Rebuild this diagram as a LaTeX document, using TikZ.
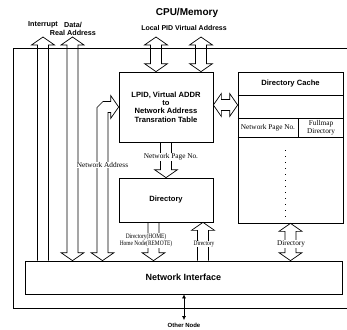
\documentclass[tikz,border=0pt]{standalone}
\usepackage{fontspec}
\setmainfont{Liberation Serif}
\setsansfont{Liberation Sans}
\newfontfamily\narrowserif[FakeStretch=0.8]{Liberation Serif}
\usepackage{tikz}
\usetikzlibrary{arrows.meta,positioning,calc}

% sizes of the hollow arrows
\newcommand{\shaftw}{5.5pt}
\newcommand{\headw}{11.5pt}
\newcommand{\headl}{8pt}

% hollow arrows: #1 upper (or left) end, #2 lower (or right) end
\newcommand{\bothwayv}[2]{%
  \draw[hollow] let \p1=(#1), \p2=(#2) in
    (\x1,\y1) -- (\x1+\headw,\y1-\headl) -- (\x1+\shaftw,\y1-\headl) -- (\x1+\shaftw,\y2+\headl)
    -- (\x1+\headw,\y2+\headl) -- (\x1,\y2) -- (\x1-\headw,\y2+\headl) -- (\x1-\shaftw,\y2+\headl)
    -- (\x1-\shaftw,\y1-\headl) -- (\x1-\headw,\y1-\headl) -- cycle;}
\newcommand{\upwayv}[2]{%
  \draw[hollow] let \p1=(#1), \p2=(#2) in
    (\x1-\shaftw,\y2) -- (\x1-\shaftw,\y1-\headl) -- (\x1-\headw,\y1-\headl) -- (\x1,\y1)
    -- (\x1+\headw,\y1-\headl) -- (\x1+\shaftw,\y1-\headl) -- (\x1+\shaftw,\y2);}
\newcommand{\downwayv}[2]{%
  \draw[hollow] let \p1=(#1), \p2=(#2) in
    (\x1-\shaftw,\y1) -- (\x1-\shaftw,\y2+\headl) -- (\x1-\headw,\y2+\headl) -- (\x1,\y2)
    -- (\x1+\headw,\y2+\headl) -- (\x1+\shaftw,\y2+\headl) -- (\x1+\shaftw,\y1);}
\newcommand{\bothwayh}[2]{%
  \draw[hollow] let \p1=(#1), \p2=(#2) in
    (\x1,\y1) -- (\x1+\headl,\y1+\headw) -- (\x1+\headl,\y1+\shaftw) -- (\x2-\headl,\y1+\shaftw)
    -- (\x2-\headl,\y1+\headw) -- (\x2,\y1) -- (\x2-\headl,\y1-\headw) -- (\x2-\headl,\y1-\shaftw)
    -- (\x1+\headl,\y1-\shaftw) -- (\x1+\headl,\y1-\headw) -- cycle;}

\begin{document}
\begin{tikzpicture}[x=1pt, y=-1pt,
    box/.style={draw, line width=0.7pt, font=\sffamily\bfseries\fontsize{7.6}{8.2}\selectfont, align=center, inner sep=0pt},
    hollow/.style={draw, line width=0.7pt, line join=miter},
    lbl/.style={font=\fontsize{7.3}{8}\selectfont, fill=white, inner sep=0.6pt},
    smalllbl/.style={font=\narrowserif\fontsize{6.8}{7.6}\selectfont, fill=white, inner sep=0.4pt, align=center},
    toplbl/.style={font=\sffamily\bfseries\fontsize{7.2}{8}\selectfont, inner sep=0pt, align=center}
]
    \useasboundingbox (0,0) rectangle (347,329);

    % node frame
    \draw[line width=0.7pt] (347,48) -- (13,48) -- (13,308) -- (347,308);

    % main blocks
    \node[box, minimum width=94pt, minimum height=70pt] (lpid) at (166,107) {LPID, Virtual ADDR\\to\\Network Address\\Transration Table};
    \node[box, minimum width=94pt, minimum height=44pt] (dir) at (166,200) {Directory};
    \node[box, minimum width=105pt, minimum height=151pt] (dcache) at (290.5,147.5) {};
    \node[box, minimum width=317pt, minimum height=33pt, font=\sffamily\bfseries\fontsize{9}{10}\selectfont] (ni) at (183.5,277.5) {Network Interface};

    % directory cache table
    \coordinate (rowa) at (0,95);
    \coordinate (rowb) at (0,118);
    \coordinate (rowc) at (0,137);
    \coordinate (colsep) at (298,0);
    \node[box, draw=none] (dctitle) at (290.5,84) {Directory Cache};
    \draw[line width=0.7pt] (dcache.west |- rowa) -- (dcache.east |- rowa);
    \draw[line width=0.7pt] (dcache.west |- rowb) -- (dcache.east |- rowb);
    \draw[line width=0.7pt] (dcache.west |- rowc) -- (dcache.east |- rowc);
    \draw[line width=0.7pt] (colsep |- rowb) -- (colsep |- rowc);
    \node[lbl, fill=none] (pagecol) at (268,127.5) {Network Page No.};
    \node[lbl, fill=none, align=center] (mapcol) at (321,127.5) {Fullmap\\Directory};
    \coordinate (dotsa) at (285,150);
    \coordinate (dotsb) at (285,218);
    \draw[line width=1pt, dash pattern=on 1pt off 5pt] (dotsa) -- (dotsb);

    % arrow ends
    \coordinate (intT) at (43,37);
    \coordinate (dataT) at (72.5,37);
    \coordinate (cpuA) at (156,37);
    \coordinate (cpuB) at (201,37);
    \coordinate (cacheY) at (0,105);
    \coordinate (naY) at (0,107);
    \coordinate (naX) at (102.5,0);

    % hollow arrows
    \upwayv{intT}{ni.north}
    \bothwayv{dataT}{ni.north}
    \bothwayv{cpuA}{lpid.north}
    \bothwayv{cpuB}{lpid.north}
    \bothwayh{lpid.east |- cacheY}{dcache.west |- cacheY}
    \downwayv{lpid.south}{dir.north}
    \downwayv{[xshift=-12.5pt]dir.south}{ni.north}
    \upwayv{[xshift=37pt]dir.south}{ni.north}
    \bothwayv{dcache.south}{ni.north}
    \draw[hollow] let \p1=(lpid.west |- naY), \p2=(ni.north -| naX) in
      (\x1,\y1) -- (\x1-\headl,\y1-\headw) -- (\x1-\headl,\y1-\shaftw) -- (\x2+\shaftw,\y1-\shaftw)
      -- (\x2+\shaftw,\y2+\headl) -- (\x2+\headw,\y2+\headl) -- (\x2,\y2) -- (\x2-\headw,\y2+\headl)
      -- (\x2-\shaftw,\y2+\headl) -- (\x2-\shaftw,\y1+\shaftw-6pt) -- (\x2-\shaftw+6pt,\y1+\shaftw)
      -- (\x1-\headl,\y1+\shaftw) -- (\x1-\headl,\y1+\headw) -- cycle;

    % arrow labels
    \node[lbl] (naddr) at (102.5,165) {Network Address};
    \node[lbl] (npage) at (171,157) {Network Page No.};
    \node[smalllbl] (homelbl) at (146,240.5) {Directory(HOME)\\Home Node(REMOTE)};
    \node[smalllbl] (dirlbl) at (204,244) {Directory};
    \node[lbl] (dclbl) at (291,244) {Directory};

    % outside labels
    \node[toplbl, font=\sffamily\bfseries\fontsize{10}{11}\selectfont] (cpumem) at (187,13) {CPU/Memory};
    \node[toplbl, font=\sffamily\bfseries\fontsize{7}{8}\selectfont] (lpva) at (184,28) {Local PID Virtual Address};
    \node[toplbl] (intlbl) at (43,25) {Interrupt};
    \node[toplbl] (datalbl) at (73,29) {Data/\\Real Address};
    \node[toplbl, font=\sffamily\bfseries\fontsize{6}{7}\selectfont, inner sep=0.5pt] (onode) at (184,325) {Other Node};
    \draw[{Latex[length=4pt,width=4pt]}-{Latex[length=4pt,width=4pt]}, line width=0.7pt, shorten >=2pt] (ni.south -| onode) -- (onode.north);
\end{tikzpicture}
\end{document}
